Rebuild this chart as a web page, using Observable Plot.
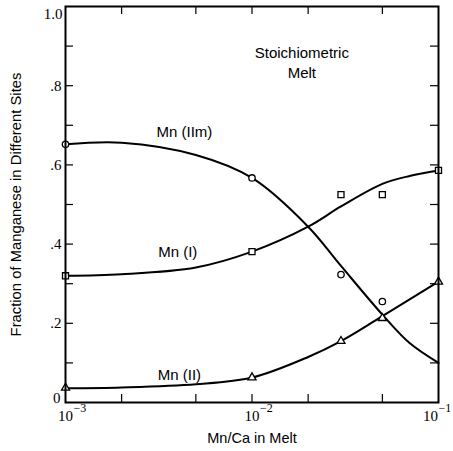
<!DOCTYPE html>
<html>
<head>
<meta charset="utf-8">
<script src="https://cdn.jsdelivr.net/npm/d3@7"></script>
<script src="https://cdn.jsdelivr.net/npm/@observablehq/plot@0.6"></script>
<style>
  html, body { margin: 0; padding: 0; background: #fff; }
  #chart { width: 453px; height: 451px; }
</style>
</head>
<body>
<div id="chart"></div>
<script>
// ---- Data ----
// measured points (markers)
const iimX = [0.001, 0.01, 0.03, 0.05];
const iimY = [0.652, 0.567, 0.323, 0.255];
const iX = [0.001, 0.01, 0.03, 0.05, 0.1];
const iY = [0.32, 0.381, 0.525, 0.525, 0.586];
const iiX = [0.001, 0.01, 0.03, 0.05, 0.1];
const iiY = [0.037, 0.063, 0.155, 0.213, 0.305];

// fitted curves
const iimCurveX = [0.001, 0.002, 0.005, 0.01, 0.02, 0.03, 0.05, 0.07, 0.1];
const iimCurveY = [0.652, 0.656, 0.625, 0.567, 0.444, 0.345, 0.222, 0.15, 0.10];
const iCurveX = [0.001, 0.002, 0.005, 0.01, 0.02, 0.03, 0.05, 0.07, 0.1];
const iCurveY = [0.32, 0.324, 0.341, 0.381, 0.444, 0.495, 0.552, 0.572, 0.586];
const iiCurveX = [0.001, 0.002, 0.005, 0.01, 0.02, 0.03, 0.05, 0.1];
const iiCurveY = [0.036, 0.038, 0.046, 0.063, 0.115, 0.155, 0.218, 0.305];

// ticks and labels
const xMinorTicks = [0.002, 0.005, 0.01, 0.02, 0.05];
const xLabelValues = [0.001, 0.01, 0.1];
const xLabelExps = ["\u22123", "\u22122", "\u22121"];
const yInnerTicks = [0.1, 0.2, 0.3, 0.4, 0.5, 0.6, 0.7, 0.8, 0.9];
const yLabelValues = [0, 0.2, 0.4, 0.6, 0.8, 1.0];
const yLabelTexts = ["0", ".2", ".4", ".6", ".8", "1.0"];
const seriesNames = ["Mn (IIm)", "Mn (I)", "Mn (II)"];
const annotation = ["Stoichiometric", "Melt"];
const xTitle = "Mn/Ca in Melt";
const yTitle = "Fraction of Manganese in Different Sites";

// ---- build tables ----
const zip = (xs, ys) => xs.map((x, i) => ({x, y: ys[i]}));
const iimPts = zip(iimX, iimY), iPts = zip(iX, iY), iiPts = zip(iiX, iiY);
const iimCurve = zip(iimCurveX, iimCurveY), iCurve = zip(iCurveX, iCurveY), iiCurve = zip(iiCurveX, iiCurveY);
const yLabels = yLabelValues.map((v, i) => ({v, t: yLabelTexts[i]}));
const xLabels = xLabelValues.map((v, i) => ({v, e: xLabelExps[i]}));

const W = 453, H = 451;
const mL = 65, mR = 15, mT = 6, mB = 49;
const pw = W - mL - mR, ph = H - mT - mB;
const tick = 8;
const serif = "Liberation Serif, Times New Roman, serif";
const sans = "Liberation Sans, Arial, sans-serif";

const lineOpts = {x: "x", y: "y", stroke: "black", strokeWidth: 2, curve: "catmull-rom"};
const ptOpts = {x: "x", y: "y", fill: "white", stroke: "black", strokeWidth: 1.3};

const chart = Plot.plot({
  width: W, height: H,
  marginLeft: mL, marginRight: mR, marginTop: mT, marginBottom: mB,
  style: {fontFamily: sans, background: "white", color: "black", overflow: "visible"},
  x: {type: "log", domain: [0.001, 0.1], axis: null},
  y: {domain: [0, 1], axis: null},
  marks: [
    // inward ticks on all sides
    Plot.tickY(yInnerTicks, {y: d => d, stroke: "black", strokeWidth: 1.2, insetRight: pw - tick}),
    Plot.tickY(yInnerTicks, {y: d => d, stroke: "black", strokeWidth: 1.2, insetLeft: pw - tick}),
    Plot.tickX(xMinorTicks, {x: d => d, stroke: "black", strokeWidth: 1.2, insetTop: ph - tick}),
    Plot.tickX(xMinorTicks, {x: d => d, stroke: "black", strokeWidth: 1.2, insetBottom: ph - tick}),
    // curves
    Plot.line(iimCurve, lineOpts),
    Plot.line(iCurve, lineOpts),
    Plot.line(iiCurve, lineOpts),
    // markers
    Plot.dot(iimPts, {...ptOpts, symbol: "circle", r: 3.2}),
    Plot.dot(iPts, {...ptOpts, symbol: "square", r: 3.4}),
    Plot.dot(iiPts, {...ptOpts, symbol: "triangle", r: 3}),
    Plot.frame({stroke: "black", strokeWidth: 2}),
    // y tick labels
    Plot.text(yLabels.filter(d => d.v > 0 && d.v < 1), {y: "v", text: "t", frameAnchor: "left", dx: -4, textAnchor: "end", fontFamily: serif, fontSize: 15}),
    Plot.text(yLabels.filter(d => d.v === 1), {y: "v", text: "t", frameAnchor: "left", dx: -3, dy: 8, textAnchor: "end", fontFamily: serif, fontSize: 15}),
    Plot.text(yLabels.filter(d => d.v === 0), {y: "v", text: "t", frameAnchor: "left", dx: -5, dy: -4, textAnchor: "end", fontFamily: serif, fontSize: 15}),
    // x tick labels: 10 with superscript exponent
    Plot.text(xLabels.filter(d => d.v < 0.1), {x: "v", text: () => "10", frameAnchor: "bottom", dy: 18, fontFamily: serif, fontSize: 15}),
    Plot.text(xLabels.filter(d => d.v < 0.1), {x: "v", text: "e", frameAnchor: "bottom", dx: 8, dy: 9, textAnchor: "start", fontFamily: serif, fontSize: 12}),
    Plot.text(xLabels.filter(d => d.v === 0.1), {x: "v", text: () => "10", frameAnchor: "bottom", dx: -8, dy: 18, fontFamily: serif, fontSize: 15}),
    Plot.text(xLabels.filter(d => d.v === 0.1), {x: "v", text: "e", frameAnchor: "bottom", dx: 0, dy: 9, textAnchor: "start", fontFamily: serif, fontSize: 12}),
    // axis titles
    Plot.text([xTitle], {x: 0.01, text: d => d, frameAnchor: "bottom", dy: 40, fontSize: 14.5}),
    Plot.text([yTitle], {y: 0.5, text: d => d, frameAnchor: "left", textAnchor: "middle", dx: -49, rotate: -90, fontSize: 14.8}),
    // series labels
    Plot.text([seriesNames[0]], {x: 0.00434, y: 0.682, text: d => d, fontSize: 15, letterSpacing: 0.6}),
    Plot.text([seriesNames[1]], {x: 0.0040, y: 0.379, text: d => d, fontSize: 15, letterSpacing: 0.6}),
    Plot.text([seriesNames[2]], {x: 0.00408, y: 0.068, text: d => d, fontSize: 15, letterSpacing: 0.6}),
    // annotation
    Plot.text([annotation[0]], {x: 0.0185, y: 0.881, text: d => d, fontSize: 15}),
    Plot.text([annotation[1]], {x: 0.0185, y: 0.831, text: d => d, fontSize: 15})
  ]
});
document.getElementById("chart").appendChild(chart);
</script>
</body>
</html>
